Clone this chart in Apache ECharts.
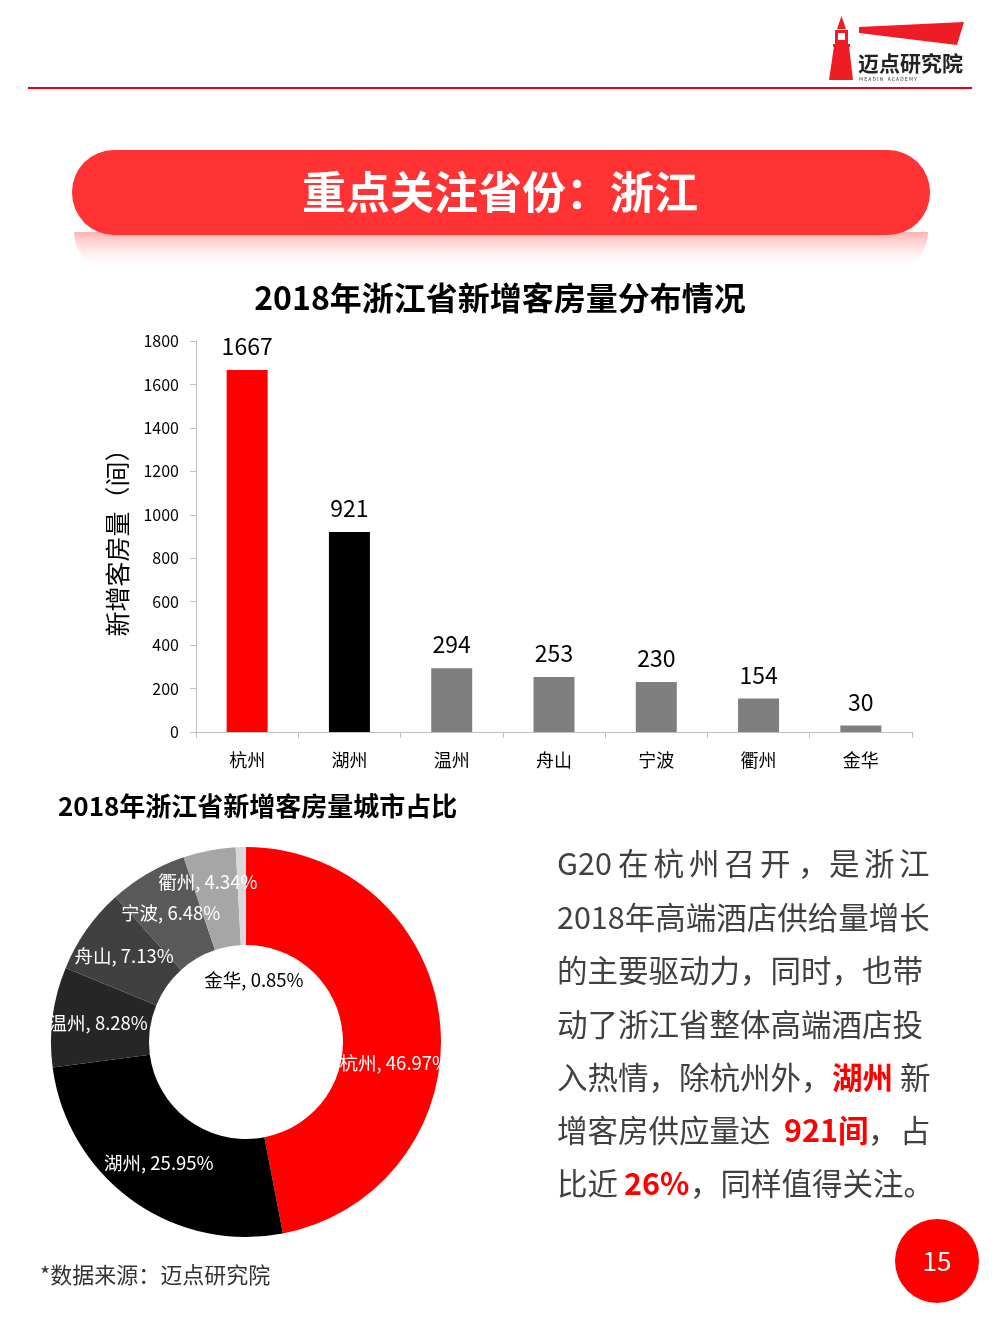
<!DOCTYPE html>
<html>
<head>
<meta charset="utf-8">
<script src="https://cdn.jsdelivr.net/npm/echarts@6/dist/echarts.min.js"></script>
<style>
html,body{margin:0;padding:0;background:#fff;}
#main{width:1000px;height:1333px;}
</style>
</head>
<body>
<div id="main"></div>
<script>
// ---- data ----
const cities = ['杭州', '湖州', '温州', '舟山', '宁波', '衢州', '金华'];
const rooms = [1667, 921, 294, 253, 230, 154, 30];
const yTicks = [0, 200, 400, 600, 800, 1000, 1200, 1400, 1600, 1800];
const barTitle = '2018年浙江省新增客房量分布情况';
const pieTitle = '2018年浙江省新增客房量城市占比';
const yAxisName = '新增客房量（间）';
const bannerText = '重点关注省份：浙江';
const sourceNote = '*数据来源：迈点研究院';
const pageNo = '15';

// ---- styles ----
const FONT = '"Noto Sans CJK SC", "Noto Sans", sans-serif';
const barColors = ['#ff0000', '#000000', '#7f7f7f', '#7f7f7f', '#7f7f7f', '#7f7f7f', '#7f7f7f'];
const pieColors = ['#ff0000', '#000000', '#262626', '#404040', '#595959', '#a6a6a6', '#d9d9d9'];
const TXT = '#404040';

const chart = echarts.init(document.getElementById('main'), null, {renderer: 'canvas'});

function txt(x, y, text, size, extra) {
  return {
    type: 'text', x: x, y: y,
    style: Object.assign({text: text, fill: TXT, font: size + 'px ' + FONT, align: 'left', verticalAlign: 'middle'}, extra || {})
  };
}

const graphics = [];
// header logo
graphics.push({type: 'polygon', shape: {points: [[859, 27], [964, 22], [957, 45], [859, 33]]}, style: {fill: '#ee1c25'}});
graphics.push({type: 'polygon', shape: {points: [[829, 80], [853, 80], [849, 46], [834, 46]]}, style: {fill: '#ee1c25'}});
graphics.push({type: 'rect', shape: {x: 835, y: 30, width: 13, height: 14}, style: {fill: '#ee1c25'}});
graphics.push({type: 'rect', shape: {x: 838, y: 33, width: 7, height: 7}, style: {fill: '#ffffff'}});
graphics.push({type: 'polygon', shape: {points: [[841.5, 16], [846, 29], [837, 29]]}, style: {fill: '#ee1c25'}});
graphics.push({type: 'rect', shape: {x: 833, y: 44, width: 17, height: 3}, style: {fill: '#ee1c25'}});
graphics.push(txt(858, 63, '迈点研究院', 21, {fill: '#222', font: 'bold 21px ' + FONT}));
graphics.push(txt(859, 79, 'M E A D I N    A C A D E M Y', 5, {fill: '#333', font: '5px ' + FONT}));
graphics.push({type: 'rect', shape: {x: 28, y: 87, width: 944, height: 2}, style: {fill: '#e60012'}});

// banner reflection
graphics.push({type: 'rect', shape: {x: 74, y: 232, width: 854, height: 40, r: [0, 0, 40, 40]},
  style: {fill: new echarts.graphic.LinearGradient(0, 0, 0, 1, [
    {offset: 0, color: 'rgba(255,80,80,0.45)'}, {offset: 1, color: 'rgba(255,255,255,0)'}])}});
// banner
graphics.push({type: 'rect', shape: {x: 72, y: 150, width: 858, height: 85, r: 42}, style: {fill: '#ff3333'}});
graphics.push({type: 'text', x: 500, y: 192, style: {text: bannerText, fill: '#fff', font: 'bold 44px ' + FONT, align: 'center', verticalAlign: 'middle'}});

// titles
graphics.push({type: 'text', x: 500, y: 298, style: {text: barTitle, fill: '#000', font: 'bold 32px ' + FONT, align: 'center', verticalAlign: 'middle'}});
graphics.push(txt(58, 806, pieTitle, 26, {fill: '#000', font: 'bold 26px ' + FONT}));

// right-side paragraph
const line1 = ['在', '杭', '州', '召', '开'];
graphics.push(txt(557, 863, 'G20', 30.5));
line1.forEach((c, i) => graphics.push(txt(618 + i * 35.5, 863, c, 30.5)));
graphics.push(txt(798, 863, '，', 30.5));
['是', '浙', '江'].forEach((c, i) => graphics.push(txt(829 + i * 35, 863, c, 30.5)));
graphics.push(txt(557, 917, '2018年高端酒店供给量增长', 30.5));
graphics.push(txt(557, 970, '的主要驱动力，同时，也带', 30.5));
graphics.push(txt(557, 1024, '动了浙江省整体高端酒店投', 30.5));
graphics.push(txt(557, 1077, '入热情，除杭州外，', 30.5));
graphics.push(txt(832, 1077, '湖州', 30.5, {fill: '#ff0000', font: 'bold 30.5px ' + FONT}));
graphics.push(txt(900, 1077, '新', 30.5));
graphics.push(txt(557, 1130, '增客房供应量达', 30.5));
graphics.push(txt(784, 1130, '921间', 30.5, {fill: '#ff0000', font: 'bold 30.5px ' + FONT}));
graphics.push(txt(868, 1130, '，', 30.5));
graphics.push(txt(900, 1130, '占', 30.5));
graphics.push(txt(557, 1183, '比近', 30.5));
graphics.push(txt(624, 1183, '26%', 30.5, {fill: '#ff0000', font: 'bold 30.5px ' + FONT}));
graphics.push(txt(690, 1183, '，同样值得关注。', 30.5));

// footnote
graphics.push(txt(40, 1275, sourceNote, 22, {fill: '#333'}));
// page number
graphics.push({type: 'circle', shape: {cx: 937, cy: 1261, r: 42}, style: {fill: '#ff0000'}});
graphics.push({type: 'text', x: 937, y: 1261, style: {text: pageNo, fill: '#fff', font: '26px ' + FONT, align: 'center', verticalAlign: 'middle'}});

const option = {
  animation: false,
  backgroundColor: '#ffffff',
  textStyle: {fontFamily: FONT},
  graphic: graphics,
  grid: {left: 196, right: 88, top: 341, height: 391, containLabel: false},
  xAxis: {
    type: 'category', data: cities,
    axisLine: {lineStyle: {color: '#bfbfbf', width: 1}},
    axisTick: {show: true, length: 6, lineStyle: {color: '#bfbfbf'}},
    axisLabel: {color: '#000', fontSize: 18, margin: 19, fontFamily: FONT}
  },
  yAxis: {
    type: 'value', min: yTicks[0], max: yTicks[yTicks.length - 1], interval: yTicks[1] - yTicks[0],
    name: yAxisName, nameLocation: 'middle', nameRotate: 90, nameGap: 66,
    nameTextStyle: {fontSize: 25, color: '#000', fontFamily: FONT},
    axisLine: {show: true, lineStyle: {color: '#bfbfbf'}},
    axisTick: {show: true, length: 6, lineStyle: {color: '#bfbfbf'}},
    splitLine: {show: false},
    axisLabel: {color: '#000', fontSize: 16, margin: 17, fontFamily: FONT, formatter: v => String(v)}
  },
  series: [
    {
      type: 'bar', barWidth: 41,
      data: rooms.map((v, i) => ({value: v, itemStyle: {color: barColors[i]}})),
      label: {show: true, position: 'top', distance: 12, fontSize: 23, color: '#000', fontFamily: FONT}
    },
    {
      type: 'pie', center: [246, 1042], radius: [97, 195], startAngle: 90, clockwise: true,
      avoidLabelOverlap: false,
      data: cities.map((c, i) => ({name: c, value: rooms[i], itemStyle: {color: pieColors[i]},
        label: i === 6 ? {color: '#000'} : {}})),
      label: {show: true, position: 'inside', formatter: '{b}, {d}%', color: '#fff', fontSize: 18.5, fontFamily: FONT},
      labelLine: {show: false},
      labelLayout: function (p) {
        if (p.dataIndex === 6) return {x: 254, y: 980, align: 'center', verticalAlign: 'middle'};
        if (p.dataIndex === 5) return {dx: -10, dy: -14};
        if (p.dataIndex === 0) return {dy: 35};
        return {};
      },
      emphasis: {disabled: true}
    }
  ]
};
chart.setOption(option);
</script>
</body>
</html>
